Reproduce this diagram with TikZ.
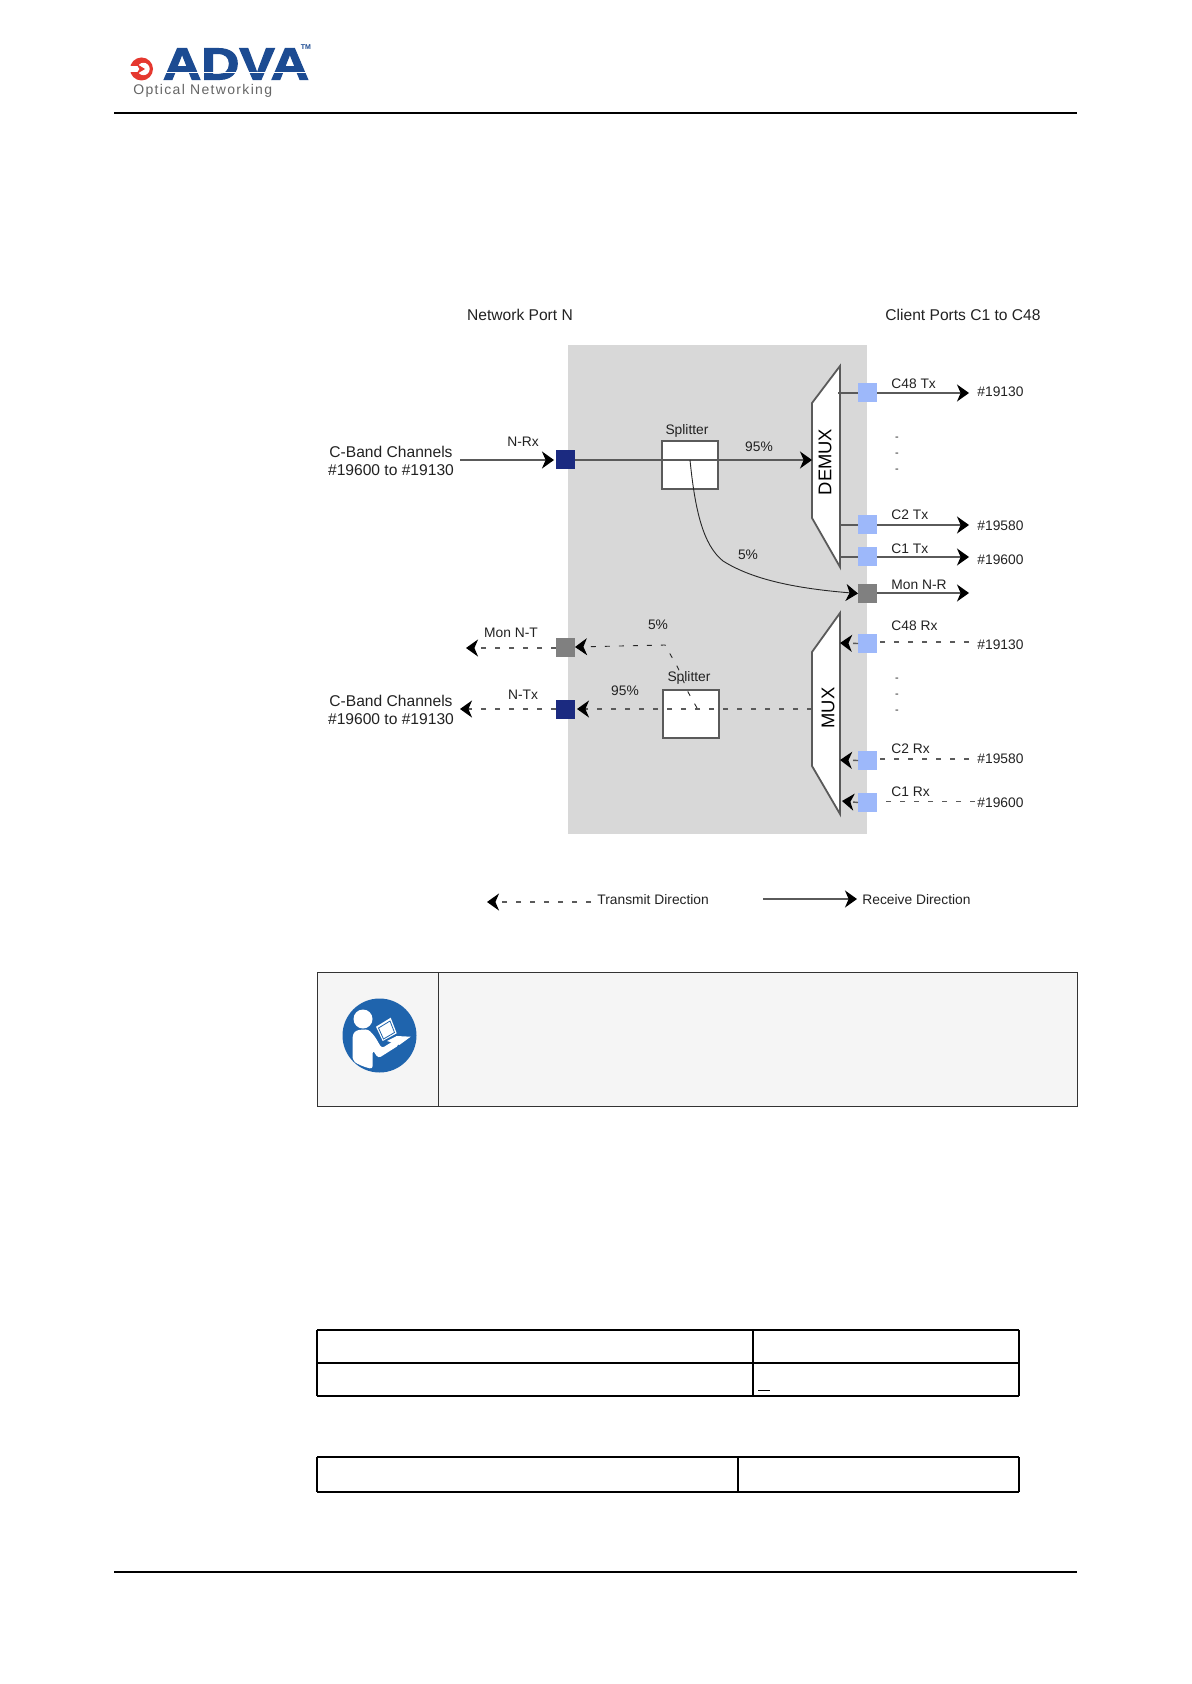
\documentclass[tikz,border=0pt]{standalone}
\usepackage{fontspec}
\setmainfont{Liberation Sans}
\newfontfamily\spacedfont[LetterSpace=9.5]{Liberation Sans}
\newfontfamily\advafont[BoldFeatures={FakeBold=2.5}]{Liberation Sans}
\usetikzlibrary{arrows.meta}
\definecolor{portdark}{HTML}{1B2A80}
\definecolor{portlight}{HTML}{9DB8FA}
\definecolor{portgray}{HTML}{808080}
\definecolor{panelgray}{HTML}{D8D8D8}
\definecolor{wire}{HTML}{5A5A5A}
\definecolor{txt}{HTML}{222222}
\definecolor{advablue}{HTML}{1C4B92}
\definecolor{advared}{HTML}{E5382F}
\definecolor{iconblue}{HTML}{1F64AD}
\tikzset{
  x=0.5pt,y=-0.5pt,
  port/.style={draw=none,minimum size=9.5pt,inner sep=0pt,outer sep=0pt},
  pdark/.style={port,fill=portdark},
  plight/.style={port,fill=portlight},
  pgray/.style={port,fill=portgray},
  lab/.style={inner sep=0pt,font=\fontsize{6.9}{8.4}\selectfont,text=txt},
  biglab/.style={inner sep=0pt,font=\fontsize{7.8}{9}\selectfont,text=txt,align=center},
  sline/.style={draw=wire,line width=0.8pt},
  thinline/.style={draw=black!85,line width=0.45pt},
  dline/.style={draw=wire,line width=0.7pt,dash pattern=on 2.5pt off 4.5pt},
  tip/.style={-{Stealth[length=6pt,width=8.5pt,inset=1.8pt,black]}},
  muxbox/.style={draw=wire,line width=0.9pt,fill=white,line join=miter},
  split/.style={draw=wire,line width=0.8pt,fill=white,inner sep=0pt,outer sep=0pt,minimum width=28pt,minimum height=24pt},
  muxlab/.style={inner sep=0pt,rotate=90,font=\fontsize{9.2}{10}\selectfont,text=black},
  pagerule/.style={draw=black,line width=0.9pt},
  cell/.style={draw=black,line width=0.6pt},
  notecell/.style={draw=black!80,line width=0.45pt},
}
\begin{document}
\begin{tikzpicture}
\useasboundingbox (0,0) rectangle (1191,1684);
\fill[white] (0,0) rectangle (1191,1684);

% header and footer
\coordinate (hl) at (114,113); \coordinate (hr) at (1077,113);
\coordinate (fl) at (114,1572); \coordinate (fr) at (1077,1572);
\draw[pagerule] (hl) -- (hr);
\draw[pagerule] (fl) -- (fr);

% logo
\fill[advared] (141.5,69) circle (11.5);
\fill[white] (129,66) rectangle (140,72);
\fill[white] (143.5,69) circle (6.2);
\fill[advared] (136,63.5) -- (145,69) -- (136,74.5) -- (139.5,69) -- cycle;
\node[inner sep=0pt,text=advablue] (adva) at (236,64)
  {\resizebox{73pt}{15.5pt}{\advafont\bfseries ADVA}};
\draw[white,line width=0.7pt] (160,72.5) -- (312,72.5);
\node[inner sep=0pt,text=advablue,font=\fontsize{3.5}{4}\selectfont\bfseries] (tm) at (306,47.5) {TM};
\node[inner sep=0pt,anchor=west,text=black!60,font=\fontsize{7}{8}\spacedfont] (optical) at (133,91) {Optical Networking};

% panel
\node[draw=none,fill=panelgray,inner sep=0pt,outer sep=0pt,anchor=north west,
  minimum width=149.5pt,minimum height=244.5pt] (panel) at (568,345) {};

% column titles
\node[biglab] (netport) at (520,314.5) {Network Port N};
\node[biglab] (clientports) at (963,315) {Client Ports C1 to C48};

% DEMUX / MUX
\draw[muxbox] (840,366) -- (812,403) -- (812,518) -- (840,567) -- cycle;
\draw[muxbox] (840,613) -- (812,652) -- (812,766) -- (840,814) -- cycle;
\node[muxlab] (demux) at (825,462) {DEMUX};
\node[muxlab] (mux) at (828,708) {MUX};
\coordinate (demuxin) at (812,460);
\coordinate (muxout) at (812,709);

% splitters
\node[split,anchor=north west] (spr) at (662,441) {};
\node[split,anchor=north west] (spt) at (663,690) {};
\node[lab] (sprl) at (687,430.5) {Splitter};
\node[lab] (sptl) at (689,677.5) {Splitter};

% ports
\node[pdark] (nrx) at (565.5,459.5) {};
\node[pdark] (ntx) at (565.5,709.5) {};
\node[pgray] (mont) at (565.5,647) {};
\node[pgray] (monr) at (867.5,593.5) {};
\node[plight] (c48t) at (867.5,392.5) {};
\node[plight] (c2t) at (867.5,524.5) {};
\node[plight] (c1t) at (867.5,556.5) {};
\node[plight] (c48r) at (867.5,643.5) {};
\node[plight] (c2r) at (867.5,760.5) {};
\node[plight] (c1r) at (867.5,802.5) {};

% free ends
\coordinate (nrxin) at (460,460);
\coordinate (ntxout) at (460,709);
\coordinate (montout) at (466,648);
\coordinate (c48te) at (969,393);
\coordinate (c2te) at (969,525);
\coordinate (c1te) at (969,557);
\coordinate (monre) at (969,593);
\coordinate (c48re) at (969,642);
\coordinate (c2re) at (969,759);
\coordinate (c1re) at (975,801);
\coordinate (c48ri) at (840,643);
\coordinate (c2ri) at (840,760);
\coordinate (c1ri) at (842,801);
\coordinate (c48ti) at (838,393);
\coordinate (c2ti) at (840,525);
\coordinate (c1ti) at (840,557);
\coordinate (sprc) at (690,460);
\coordinate (sptc) at (697,708);

% receive wires
\draw[sline,tip,shorten >=1pt] (nrxin) -- (nrx.west |- nrxin);
\draw[sline,tip] (nrx.east |- nrxin) -- (demuxin);
\draw[sline] (c48ti) -- (c48t.west |- c48ti);
\draw[sline] (c2ti) -- (c2t.west |- c2ti);
\draw[sline] (c1ti) -- (c1t.west |- c1ti);
\draw[sline,tip] (c48t.east |- c48te) -- (c48te);
\draw[sline,tip] (c2t.east |- c2te) -- (c2te);
\draw[sline,tip] (c1t.east |- c1te) -- (c1te);
\draw[sline,tip] (monr.east |- monre) -- (monre);
\draw[thinline,tip] (sprc) .. controls (695,510) and (703,545) .. (723,561)
   .. controls (750,578) and (790,588) .. (monr.west);

% transmit wires
\draw[dline,tip] (muxout) -- ([xshift=1pt]ntx.east |- muxout);
\draw[dline,tip,shorten >=0pt] (ntx.west |- ntxout) -- (ntxout);
\draw[dline,tip] (mont.west |- montout) -- (montout);
\draw[thinline,dash pattern=on 2.5pt off 4.5pt,tip]
   (sptc) -- (688,692) -- (678,668) -- (665,645) -- (mont.east);
\draw[dline,tip] (c48r.west) -- (c48ri);
\draw[dline,tip] (c2r.west) -- (c2ri);
\draw[dline,tip] (c1r.west) -- (c1ri);
\draw[dline] (c48re) -- (c48r.east |- c48re);
\draw[dline] (c2re) -- (c2r.east |- c2re);
\draw[thinline,draw=wire,dash pattern=on 2.5pt off 4.5pt] (c1re) -- (c1r.east |- c1re);

% labels
\node[biglab] (cbandr) at (391,461) {C-Band Channels\\[0.4pt]\#19600 to \#19130};
\node[biglab] (cbandt) at (391,710) {C-Band Channels\\[0.4pt]\#19600 to \#19130};
\node[lab] (lnrx) at (523,442) {N-Rx};
\node[lab] (lntx) at (523,695) {N-Tx};
\node[lab] (lmont) at (511,633) {Mon N-T};
\node[lab] (l95a) at (759,447) {95\%};
\node[lab] (l5a) at (748,555) {5\%};
\node[lab] (l95b) at (625,691) {95\%};
\node[lab] (l5b) at (658,625) {5\%};
\node[lab,anchor=west] (lc48t) at (891,384) {C48 Tx};
\node[lab,anchor=west] (lc2t) at (891,515) {C2 Tx};
\node[lab,anchor=west] (lc1t) at (891,549) {C1 Tx};
\node[lab,anchor=west] (lmonr) at (891,585) {Mon N-R};
\node[lab,anchor=west] (lc48r) at (891,626) {C48 Rx};
\node[lab,anchor=west] (lc2r) at (891,749) {C2 Rx};
\node[lab,anchor=west] (lc1r) at (891,792) {C1 Rx};
\node[lab,anchor=west] (n1) at (977,392) {\#19130};
\node[lab,anchor=west] (n2) at (977,526) {\#19580};
\node[lab,anchor=west] (n3) at (977,560) {\#19600};
\node[lab,anchor=west] (n4) at (977,645) {\#19130};
\node[lab,anchor=west] (n5) at (977,759) {\#19580};
\node[lab,anchor=west] (n6) at (977,803) {\#19600};
\foreach \yy/\nn in {439/a,455/b,471/c,680/d,696/e,712/f}
  \node[lab,font=\fontsize{5.5}{6}\selectfont] (dot\nn) at (897,\yy) {-};

% legend
\coordinate (legts) at (591,902); \coordinate (legte) at (487,902);
\coordinate (legrs) at (763,899); \coordinate (legre) at (857,899);
\draw[dline,tip] (legts) -- (legte);
\draw[sline,tip] (legrs) -- (legre);
\node[lab,anchor=west] (ltd) at (597,900) {Transmit Direction};
\node[lab,anchor=west] (lrd) at (862,900) {Receive Direction};

% note box
\fill[black!4] (317,972) rectangle (1077,1106);
\draw[notecell] (317,972) rectangle (1077,1106);
\draw[notecell] (438,972) -- (438,1106);
\fill[iconblue] (379.5,1035.5) circle (37);
\fill[white] (363,1019) circle (9.5);
\fill[white,rounded corners=1.5pt] (352.7,1060) -- (352.7,1034) -- (356.7,1030) -- (368.3,1029.3) -- (375,1036.7) -- (381.7,1048.3) -- (395,1040) -- (399.3,1045) -- (378.3,1058.3) -- (372.7,1050) -- (372.7,1069) .. controls (364,1067) and (357,1064) .. cycle;
\fill[white] (376,1026.7) -- (390.7,1017.7) -- (396.7,1033.3) -- (382.7,1041) -- cycle;
\draw[iconblue,line width=0.4pt] (378.5,1028) -- (390,1021) -- (394.5,1032.5) -- (383.5,1039) -- cycle;
\fill[white] (387,1041) -- (396.7,1036) -- (410.7,1036.7) -- (399.3,1045) -- cycle;

% tables
\draw[line width=1pt] (317,1330) -- (1019,1330);
\draw[line width=1pt] (317,1363) -- (1019,1363);
\draw[line width=1pt] (317,1396) -- (1019,1396);
\draw[cell] (317,1330) -- (317,1396);
\draw[cell] (1019,1330) -- (1019,1396);
\draw[cell] (753,1330) -- (753,1396);
\draw[line width=0.5pt] (758,1390) -- (770,1390);
\draw[cell] (317,1457) -- (1019,1457);
\draw[line width=1pt] (317,1492) -- (1019,1492);
\draw[cell] (317,1457) -- (317,1492);
\draw[cell] (1019,1457) -- (1019,1492);
\draw[line width=1pt] (738,1457) -- (738,1492);
\end{tikzpicture}
\end{document}
